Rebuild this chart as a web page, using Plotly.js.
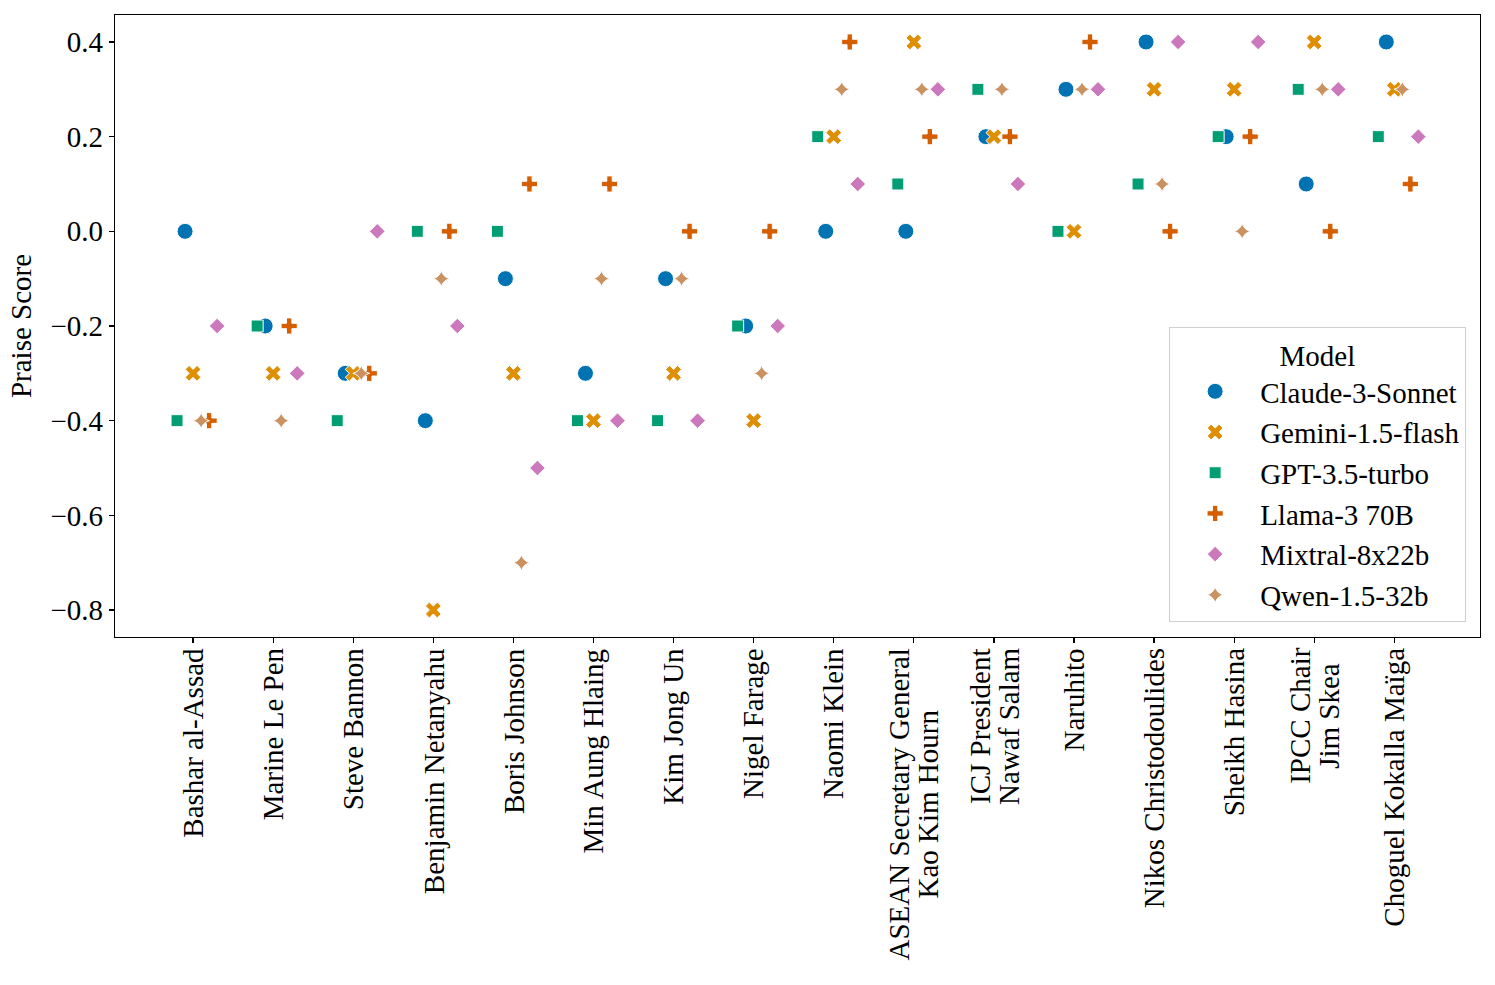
<!DOCTYPE html>
<html>
<head>
<meta charset="utf-8">
<script src="https://cdn.plot.ly/plotly-3.0.1.min.js"></script>
<style>html,body{margin:0;padding:0;background:#fff;}#chart{width:1495px;height:985px;}</style>
</head>
<body>
<div id="chart"></div>
<script>
// Categories (x tick labels)
const categories = [
  "Bashar al-Assad", "Marine Le Pen", "Steve Bannon", "Benjamin Netanyahu",
  "Boris Johnson", "Min Aung Hlaing", "Kim Jong Un", "Nigel Farage",
  "Naomi Klein", "ASEAN Secretary General<br>Kao Kim Hourn", "ICJ President<br>Nawaf Salam",
  "Naruhito", "Nikos Christodoulides", "Sheikh Hasina", "IPCC Chair<br>Jim Skea",
  "Choguel Kokalla Maïga"
];

// Praise scores per model, one value per category
const claude  = [0.0, -0.2, -0.3, -0.4, -0.1, -0.3, -0.1, -0.2, 0.0, 0.0, 0.2, 0.3, 0.4, 0.2, 0.1, 0.4];
const gemini  = [-0.3, -0.3, -0.3, -0.8, -0.3, -0.4, -0.3, -0.4, 0.2, 0.4, 0.2, 0.0, 0.3, 0.3, 0.4, 0.3];
const gpt     = [-0.4, -0.2, -0.4, 0.0, 0.0, -0.4, -0.4, -0.2, 0.2, 0.1, 0.3, 0.0, 0.1, 0.2, 0.3, 0.2];
const llama   = [-0.4, -0.2, -0.3, 0.0, 0.1, 0.1, 0.0, 0.0, 0.4, 0.2, 0.2, 0.4, 0.0, 0.2, 0.0, 0.1];
const mixtral = [-0.2, -0.3, 0.0, -0.2, -0.5, -0.4, -0.4, -0.2, 0.1, 0.3, 0.1, 0.3, 0.4, 0.4, 0.3, 0.2];
const qwen    = [-0.4, -0.4, -0.3, -0.1, -0.7, -0.1, -0.1, -0.3, 0.3, 0.3, 0.3, 0.3, 0.1, 0.0, 0.3, 0.3];

const yTicks = [-0.8, -0.6, -0.4, -0.2, 0.0, 0.2, 0.4];

const FONT = "'Liberation Serif', 'Times New Roman', serif";
const FS = 29;
const LINE_GAP = 29;     // px between lines of a multi-line category label
const LABEL_PAD = 10;    // px between axis and label top

const series = [
  {name: "Claude-3-Sonnet", y: claude,  color: "#0173b2", symbol: "circle",       size: 16, dodge: -0.1},
  {name: "Gemini-1.5-flash", y: gemini, color: "#de8f05", symbol: "x",            size: 14, dodge: 0.0},
  {name: "GPT-3.5-turbo",   y: gpt,     color: "#029e73", symbol: "square",       size: 12, dodge: -0.2},
  {name: "Llama-3 70B",     y: llama,   color: "#d55e00", symbol: "cross",        size: 13.5, dodge: 0.2},
  {name: "Mixtral-8x22b",   y: mixtral, color: "#cc78bc", symbol: "diamond",      size: 12, dodge: 0.3},
  {name: "Qwen-1.5-32b",    y: qwen,    color: "#ca9161", symbol: "star-diamond", size: 12, dodge: 0.1}
];

const traces = series.map(s => ({
  type: "scatter",
  mode: "markers",
  name: s.name,
  x: categories.map((c, i) => i + s.dodge),
  y: s.y,
  text: categories,
  marker: {color: s.color, symbol: s.symbol, size: s.size, line: {color: "#ffffff", width: 1}},
  hovertemplate: "%{text}<br>%{y}<extra>" + s.name + "</extra>"
}));

// Category labels: each line centred on the longest line, hanging below the axis
const ctx = document.createElement("canvas").getContext("2d");
ctx.font = FS + "px " + FONT;
const annotations = [];
categories.forEach((c, i) => {
  const lines = c.split("<br>");
  const longest = Math.max(...lines.map(l => ctx.measureText(l).width));
  lines.forEach((l, j) => {
    annotations.push({
      x: i, xref: "x", y: 0, yref: "paper",
      text: l, textangle: -90, showarrow: false,
      xanchor: "center", yanchor: "middle",
      xshift: (j - (lines.length - 1) / 2) * LINE_GAP,
      yshift: -(LABEL_PAD + longest / 2 + 1),
      font: {family: FONT, size: FS, color: "#000"}
    });
  });
});

const layout = {
  width: 1495, height: 985,
  margin: {l: 115, r: 15, t: 15, b: 348},
  paper_bgcolor: "#fff", plot_bgcolor: "#fff",
  font: {family: FONT, size: FS, color: "#000"},
  showlegend: true,
  xaxis: {
    type: "linear", range: [-0.975, 16.07],
    tickvals: categories.map((c, i) => i), showticklabels: false,
    ticks: "outside", ticklen: 5, tickwidth: 1.2, tickcolor: "#000",
    showgrid: false, zeroline: false,
    showline: true, mirror: true, linecolor: "#000", linewidth: 1.2
  },
  yaxis: {
    range: [-0.857, 0.457],
    tickvals: yTicks, tickformat: ".1f",
    ticks: "outside", ticklen: 5, tickwidth: 1.2, tickcolor: "#000",
    tickfont: {family: FONT, size: FS, color: "#000"},
    showgrid: false, zeroline: false,
    showline: true, mirror: true, linecolor: "#000", linewidth: 1.2,
    title: {text: "Praise Score", font: {family: FONT, size: FS, color: "#000"}, standoff: 10}
  },
  legend: {
    x: 0.9897, xanchor: "right", y: 0.024, yanchor: "bottom",
    bgcolor: "rgba(255,255,255,0.85)", bordercolor: "#d0d0d0", borderwidth: 1.2,
    font: {family: FONT, size: FS, color: "#000"},
    title: {text: "Model", side: "top center", font: {family: FONT, size: FS, color: "#000"}},
    itemwidth: 80
  },
  annotations: annotations
};

Plotly.newPlot("chart", traces, layout, {displayModeBar: false, staticPlot: true});
</script>
</body>
</html>
